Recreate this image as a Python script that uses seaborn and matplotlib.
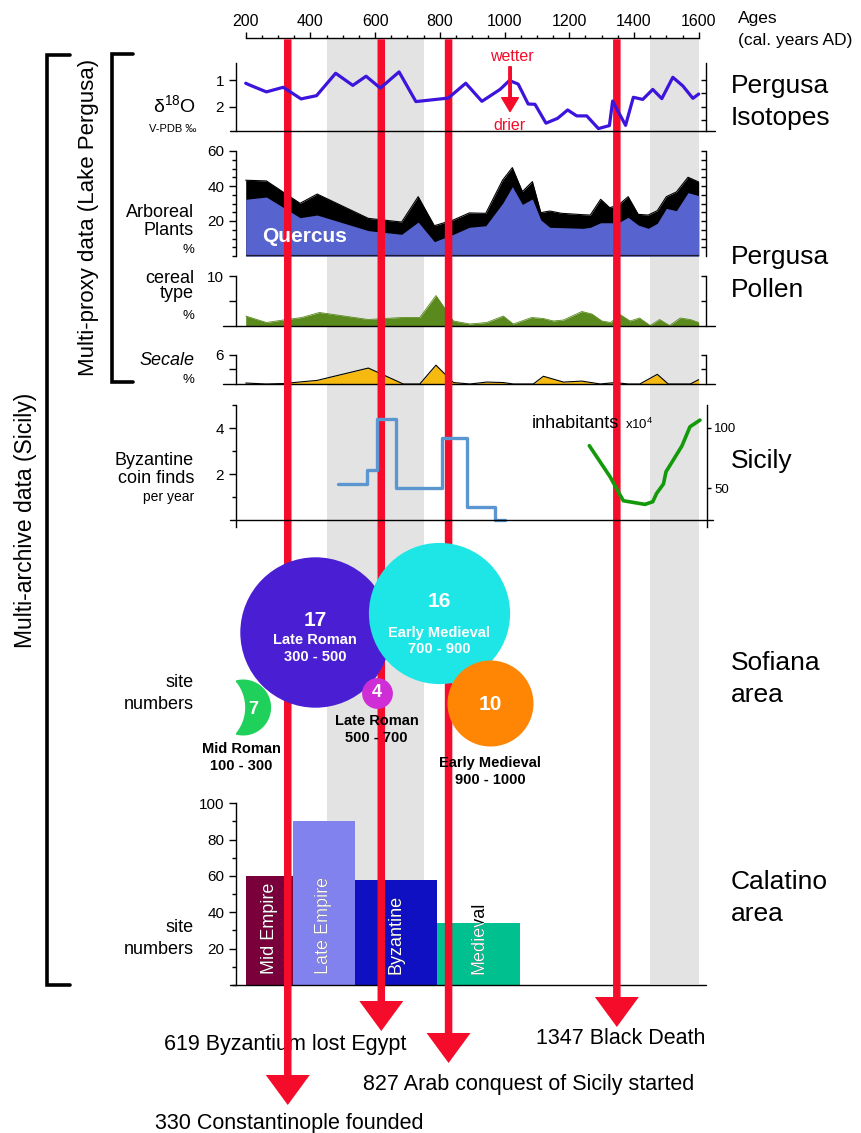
import numpy as np
import matplotlib
matplotlib.use("Agg")
import matplotlib.pyplot as plt
from matplotlib.path import Path
from matplotlib.ticker import MultipleLocator, FixedLocator, NullFormatter
import seaborn as sns

# ---------------- data ----------------
age_ticks = [200, 400, 600, 800, 1000, 1200, 1400, 1600]
grey_start = [450, 1450]
grey_end = [750, 1600]

iso_year = [200, 213, 264, 316, 371, 419, 478, 531, 572, 616, 674, 726, 826, 880, 930, 986,
            1015, 1042, 1073, 1094, 1128, 1164, 1195, 1223, 1254, 1290, 1324, 1334, 1374, 1398,
            1427, 1458, 1486, 1520, 1551, 1582, 1600]
iso_d18o = [1.12, 1.19, 1.44, 1.27, 1.70, 1.58, 0.75, 1.20, 0.86, 1.30, 0.70, 1.80, 1.67, 1.12,
            1.79, 1.35, 1.02, 1.15, 1.89, 1.90, 2.60, 2.42, 2.11, 2.33, 2.33, 2.80, 2.69, 1.78,
            2.68, 1.64, 1.72, 1.35, 1.69, 0.90, 1.22, 1.68, 1.52]

ap_year = [200, 264, 368, 421, 579, 682, 733, 783, 842, 891, 942, 994, 1024, 1055, 1086, 1112,
           1140, 1176, 1242, 1265, 1297, 1325, 1351, 1382, 1413, 1444, 1472, 1500, 1531, 1567, 1600]
ap_total = [43.3, 42.9, 30.1, 35.4, 21.5, 19.4, 33.9, 17.3, 20.6, 24.6, 24.4, 43.4, 50.5, 36.8,
            42.5, 24.8, 25.7, 24.4, 23.6, 23.4, 32.4, 27.6, 29.0, 33.9, 23.8, 23.4, 25.9, 33.9,
            36.6, 45.0, 42.3]
ap_quercus = [32.4, 33.7, 21.9, 23.4, 14.5, 12.4, 19.4, 8.2, 12.4, 16.4, 17.3, 30.1, 39.6, 29.5,
              32.6, 20.6, 16.4, 16.2, 15.8, 16.4, 19.0, 19.0, 19.0, 22.1, 17.7, 15.8, 18.7, 27.2,
              25.9, 36.2, 34.5]

cereal_year = [200, 264, 316, 373, 428, 579, 682, 738, 788, 842, 893, 945, 996, 1027, 1084, 1120,
               1151, 1182, 1239, 1270, 1301, 1328, 1357, 1388, 1417, 1450, 1479, 1510, 1543, 1574, 1600]
cereal_pct = [2.0, 0.7, 1.2, 1.7, 2.7, 1.3, 1.7, 1.7, 6.1, 1.0, 0.4, 0.7, 2.0, 0.4, 1.7, 1.5,
              1.0, 1.2, 2.9, 2.4, 1.0, 0.7, 2.3, 1.0, 1.6, 0.1, 1.3, 0.1, 1.6, 1.3, 0.7]

secale_year = [200, 264, 316, 421, 579, 687, 738, 788, 842, 893, 945, 996, 1027, 1089, 1120,
               1182, 1239, 1296, 1342, 1382, 1418, 1472, 1506, 1574, 1600]
secale_pct = [0.2, 0.0, 0.1, 0.75, 3.3, 0.0, 0.0, 3.9, 0.3, 0.0, 0.4, 0.3, 0.0, 0.0, 1.6,
              0.4, 0.6, 0.0, 0.3, 0.0, 0.0, 2.0, 0.0, 0.0, 0.9]

coin_year = [486, 574, 605, 664, 807, 883, 971, 1001]
coin_rate = [1.57, 2.19, 4.4, 1.39, 3.6, 0.57, 0.0, 0.0]

inhab_year = [1262, 1326, 1367, 1434, 1458, 1470, 1491, 1499, 1548, 1573, 1604]
inhab_1e4 = [85.2, 59.6, 39.8, 36.8, 39.0, 45.9, 53.6, 63.7, 84.9, 100.8, 106.3]

sof_label = ["Mid Roman", "Late Roman", "Late Roman", "Early Medieval", "Early Medieval"]
sof_start = [100, 300, 500, 700, 900]
sof_end = [300, 500, 700, 900, 1000]
sof_sites = [7, 17, 4, 16, 10]

cal_label = ["Mid Empire", "Late Empire", "Byzantine", "Medieval"]
cal_start = [200, 345, 537, 792]
cal_end = [345, 537, 792, 1048]
cal_sites = [60, 90, 58, 34]

event_year = [330, 619, 827, 1347]
event_text = ["330 Constantinople founded", "619 Byzantium lost Egypt",
              "827 Arab conquest of Sicily started", "1347 Black Death"]

# ---------------- style / layout ----------------
RED = "#f50c2a"
GREY = "#e3e3e3"
sof_colors = ["#1fd15a", "#4a1fd3", "#cf2ed6", "#1fe6e6", "#ff8505"]
cal_colors = ["#7a003c", "#8282ee", "#0f10c1", "#00c08f"]

W, H = 861, 1133
X0, X1 = 236, 706
PPY = (698.7 - 245.7) / 1400.0
XL = 200 - (245.7 - X0) / PPY
XR = 1600 + (X1 - 698.7) / PPY

sns.set_theme(style="ticks")
plt.rcParams.update({
    "font.family": ["Liberation Sans", "DejaVu Sans"],
    "axes.facecolor": "none",
    "axes.edgecolor": "black",
    "axes.linewidth": 1.0,
    "xtick.color": "black",
    "ytick.color": "black",
    "text.color": "black",
    "mathtext.fontset": "custom",
    "mathtext.rm": "Liberation Sans",
    "mathtext.it": "Liberation Sans:italic",
    "mathtext.bf": "Liberation Sans:bold",
})

fig = plt.figure(figsize=(W / 100, H / 100), dpi=100)
fig.patch.set_facecolor("white")


def box(y0, y1, x0=X0, x1=X1):
    return [x0 / W, 1 - y1 / H, (x1 - x0) / W, (y1 - y0) / H]


def ptext(x, y, s, **kw):
    return fig.text(x / W, 1 - y / H, s, **kw)


def panel(y0, y1, ylim, zorder=1):
    ax = fig.add_axes(box(y0, y1), zorder=zorder)
    ax.set_facecolor("none")
    for s in ["top", "right", "bottom"]:
        ax.spines[s].set_visible(False)
    ax.tick_params(axis="y", which="major", direction="out", length=5, width=1,
                   labelsize=11, pad=3.5)
    ax.tick_params(axis="y", which="minor", direction="out", length=3, width=1)
    return ax


def finish(ax, ylim):
    ax.set_xlim(XL, XR)
    ax.set_ylim(*ylim)
    ax.set_xticks([])
    ax.set_xlabel("")
    ax.set_ylabel("")


def right_ticks(ax, ticks):
    sec = ax.secondary_yaxis("right")
    sec.set_yticks(ticks)
    sec.yaxis.set_major_formatter(NullFormatter())
    sec.tick_params(axis="y", direction="in", length=3.5, width=1)
    sec.spines["right"].set_linewidth(1.0)
    return sec


def baseline(ax, yval, a0, a1):
    ax.plot([a0, a1], [yval, yval], transform=ax.get_yaxis_transform(),
            clip_on=False, color="black", lw=1.0)


# ---- background: grey periods + top age axis ----
bg = fig.add_axes(box(38.3, 984), zorder=0)
bg.set_facecolor("none")
for a, b in zip(grey_start, grey_end):
    bg.axvspan(a, b, color=GREY, lw=0)
bg.set_xlim(XL, XR)
bg.set_ylim(0, 1)
bg.set_yticks([])
for s in ["left", "right", "bottom"]:
    bg.spines[s].set_visible(False)
bg.spines["top"].set_bounds(200, 1600)
bg.xaxis.set_ticks_position("top")
bg.xaxis.set_label_position("top")
bg.xaxis.set_major_locator(FixedLocator(age_ticks))
bg.xaxis.set_minor_locator(MultipleLocator(50))
bg.tick_params(axis="x", which="major", direction="out", length=4.5, width=1,
               labelsize=11.5, pad=2.5, top=True, bottom=False, labeltop=True, labelbottom=False)
bg.tick_params(axis="x", which="minor", direction="out", length=2.5, width=1,
               top=True, bottom=False)

ptext(738, 18, "Ages", fontsize=12.5, va="center", ha="left")
ptext(738, 41, "(cal. years AD)", fontsize=12.5, va="center", ha="left")

# ---- isotopes ----
iso_lim = (2.89, 0.37)
ax_iso = panel(63, 131, iso_lim, zorder=3)
sns.lineplot(x=iso_year, y=iso_d18o, ax=ax_iso, color="#3c14dc", lw=2.3)
finish(ax_iso, iso_lim)
ax_iso.set_yticks([1, 2])
right_ticks(ax_iso, [1, 1.5, 2, 2.5])
baseline(ax_iso, iso_lim[0], -0.0128, 1.019)
ax_iso.annotate("", xy=(1017, 2.17), xytext=(1017, 0.51),
                arrowprops=dict(facecolor=RED, edgecolor=RED, width=1.8,
                                headwidth=12, headlength=10, shrink=0))
ptext(511.7, 56.7, "wetter", color=RED, fontsize=11.5, ha="center", va="center")
ptext(509.0, 125.0, "drier", color=RED, fontsize=11.5, ha="center", va="center")

# ---- arboreal pollen ----
ap_lim = (0, 60)
ax_ap = panel(151, 256, ap_lim)
ax_ap.fill_between(ap_year, 0, ap_total, color="black", lw=0)
ax_ap.fill_between(ap_year, 0, ap_quercus, color="#5764cf", lw=0)
sns.lineplot(x=ap_year, y=ap_total, ax=ax_ap, color="black", lw=0.8)
ax_ap.hlines(0, ap_year[0], ap_year[-1], color="#1a1a30", lw=1.6)
finish(ax_ap, ap_lim)
ax_ap.set_yticks([20, 40, 60])
ax_ap.yaxis.set_minor_locator(MultipleLocator(5))
right_ticks(ax_ap, list(range(5, 61, 5)))
ptext(305, 236.7, "Quercus", color="white", fontsize=15, fontweight="bold",
      ha="center", va="center")

# ---- cereal ----
ce_lim = (0, 10)
ax_ce = panel(276, 326, ce_lim)
ax_ce.fill_between(cereal_year, 0, cereal_pct, color="#5a8a1e", lw=0)
sns.lineplot(x=cereal_year, y=cereal_pct, ax=ax_ce, color="#5a8a1e", lw=0.6)
finish(ax_ce, ce_lim)
ax_ce.set_yticks([5, 10], labels=["", "10"])
right_ticks(ax_ce, [5, 10])
baseline(ax_ce, 0, -0.0277, 1.019)

# ---- secale ----
se_lim = (0, 6)
ax_se = panel(355, 384, se_lim)
ax_se.fill_between(secale_year, 0, secale_pct, color="#f6b910", lw=0)
sns.lineplot(x=secale_year, y=secale_pct, ax=ax_se, color="black", lw=0.8)
finish(ax_se, se_lim)
ax_se.set_yticks([3, 6], labels=["", "6"])
right_ticks(ax_se, [3, 6])
baseline(ax_se, 0, -0.0277, 1.019)

# ---- coins + inhabitants ----
co_lim = (-0.304, 5)
ax_co = panel(405.3, 527.3, co_lim, zorder=3)
sns.lineplot(x=coin_year, y=coin_rate, ax=ax_co, color="#5b96d1", lw=2.4,
             drawstyle="steps-post")
finish(ax_co, co_lim)
ax_co.set_yticks([2, 4])
ax_co.yaxis.set_minor_locator(FixedLocator([1, 3, 5]))
baseline(ax_co, 0, -0.0128, 1.0149)

in_lim = (17.9, 118.5)
ax_in = fig.add_axes(box(405.3, 527.3, X0, 707), zorder=3)
ax_in.set_facecolor("none")
sns.lineplot(x=inhab_year, y=inhab_1e4, ax=ax_in, color="#129a0a", lw=2.6)
ax_in.set_xlim(XL, XR + 1 / PPY)
ax_in.set_ylim(*in_lim)
ax_in.set_xticks([])
ax_in.set_xlabel("")
ax_in.set_ylabel("")
for s in ["top", "left", "bottom"]:
    ax_in.spines[s].set_visible(False)
ax_in.yaxis.tick_right()
ax_in.set_yticks([50, 100])
ax_in.tick_params(axis="y", direction="out", length=3, width=1, labelsize=9.5, pad=2)
ptext(532, 423, "inhabitants", fontsize=13, ha="left", va="center")
ptext(625, 424, r"x10$^{\mathrm{4}}$", fontsize=9.5, ha="left", va="center")

# ---- Sofiana site bubbles ----
ax_so = fig.add_axes(box(540, 800), zorder=3)
ax_so.set_facecolor("none")
ax_so.set_xlim(XL, XR)
ax_so.set_ylim(800, 540)
ax_so.axis("off")

# layout of the bubble cluster (pixel rows, small x nudges in years)
bub_dx = [23.5, 14.0, 5.0, -2.0, 5.0]
bub_cy = [707.0, 631.5, 692.7, 613.0, 703.3]
num_y = [709.3, 620.0, 692.7, 601.7, 704.0]
lab_y = [749.0, 640.0, 721.0, 632.7, 762.7]
per_y = [766.0, 656.7, 738.3, 649.3, 780.0]
lab_dx = [-36.0, 0.0, 0.0, 0.0, 0.0]
lab_inside = [False, True, False, True, False]
num_size = [13, 15, 13, 15, 15]


def radius_px(n):
    return 4.6 * n - 3.0


bx = [(s + e) / 2 + d for s, e, d in zip(sof_start, sof_end, bub_dx)]

# crescent for the smallest group
a1 = np.radians(np.linspace(105, -105, 60))
outer = np.c_[-10 + 26.9 * np.cos(a1), 26.9 * np.sin(a1)]
a2 = np.radians(np.linspace(-41.5, 41.5, 40))
inner = np.c_[-46.8 + 38.8 * np.cos(a2), 38.8 * np.sin(a2)]
cverts = np.vstack([outer, inner, outer[:1]])
ccodes = [Path.MOVETO] + [Path.LINETO] * (len(cverts) - 2) + [Path.CLOSEPOLY]
crescent = Path(cverts, ccodes)

for i in range(len(sof_sites)):
    r = radius_px(sof_sites[i])
    if i == 0:
        ax_so.scatter([bx[i]], [bub_cy[i]], marker=crescent, s=(2 * 28 * 0.72) ** 2,
                      color=sof_colors[i], lw=0, zorder=2 + i)
    else:
        ax_so.scatter([bx[i]], [bub_cy[i]], marker="o", s=(2 * r * 0.72) ** 2,
                      color=sof_colors[i], lw=0, zorder=2 + i)

for i in range(len(sof_sites)):
    ax_so.text(bx[i], num_y[i], str(sof_sites[i]), color="white", fontsize=num_size[i],
               fontweight="bold", ha="center", va="center", zorder=20)
    c = "white" if lab_inside[i] else "black"
    ax_so.text(bx[i] + lab_dx[i], lab_y[i], sof_label[i], color=c, fontsize=10.5,
               fontweight="bold", ha="center", va="center", zorder=20)
    ax_so.text(bx[i] + lab_dx[i], per_y[i], f"{sof_start[i]} - {sof_end[i]}", color=c,
               fontsize=10.5, fontweight="bold", ha="center", va="center", zorder=20)

# ---- Calatino bars ----
ca_lim = (0, 100)
ax_ca = panel(803.3, 985, ca_lim)
bars = ax_ca.bar(cal_start, cal_sites, width=[e - s for s, e in zip(cal_start, cal_end)],
                 align="edge", color=cal_colors, lw=0)
finish(ax_ca, ca_lim)
ax_ca.set_yticks([20, 40, 60, 80, 100])
ax_ca.yaxis.set_minor_locator(MultipleLocator(10))
baseline(ax_ca, 0, -0.0128, 1.0)
for i, lab in enumerate(cal_label):
    xm = (cal_start[i] + cal_end[i]) / 2
    ax_ca.text(xm, 6, lab, rotation=90, ha="center", va="bottom", fontsize=13,
               color="black", zorder=5)
    t = ax_ca.text(xm, 6, lab, rotation=90, ha="center", va="bottom", fontsize=13,
                   color="white", zorder=6, clip_on=True)
    t.set_clip_path(bars[i])

# ---- red event arrows ----
ov = fig.add_axes(box(0, H), zorder=2)
ov.set_facecolor("none")
ov.set_xlim(XL, XR)
ov.set_ylim(H, 0)
ov.axis("off")
arrow_tip = [1105, 1031, 1063, 1027]
for yr, tip in zip(event_year, arrow_tip):
    ov.arrow(yr, 39.3, 0, tip - 39.3, width=7.5 / PPY, head_width=44 / PPY,
             head_length=30, length_includes_head=True, color=RED, lw=0, zorder=5)

ev_x = [289.4, 285.4, 529.0, 621.0]
ev_base = [1129, 1050, 1090, 1044]
for s, x, y in zip(event_text, ev_x, ev_base):
    ptext(x, y, s, fontsize=15.5, ha="center", va="baseline", zorder=1.5)

# ---- left labels ----
LX = 194
ptext(LX + 2, 111.7, r"δ$^{\mathrm{18}}$O", fontsize=14, ha="right", va="baseline")
ptext(LX + 2, 131.7, "V-PDB ‰", fontsize=8, ha="right", va="baseline")
ptext(LX, 217, "Arboreal", fontsize=13, ha="right", va="baseline")
ptext(LX, 235, "Plants", fontsize=13, ha="right", va="baseline")
ptext(LX, 253, "%", fontsize=9.5, ha="right", va="baseline")
ptext(LX, 282.7, "cereal", fontsize=13, ha="right", va="baseline")
ptext(LX, 298.5, "type", fontsize=13, ha="right", va="baseline")
ptext(LX, 319, "%", fontsize=9.5, ha="right", va="baseline")
ptext(LX, 365, "Secale", fontsize=13, ha="right", va="baseline", style="italic")
ptext(LX, 383, "%", fontsize=9.5, ha="right", va="baseline")
ptext(LX, 465, "Byzantine", fontsize=13, ha="right", va="baseline")
ptext(LX, 483, "coin finds", fontsize=13, ha="right", va="baseline")
ptext(LX, 501, "per year", fontsize=10, ha="right", va="baseline")
ptext(LX, 687.3, "site", fontsize=13, ha="right", va="baseline")
ptext(LX, 709, "numbers", fontsize=13, ha="right", va="baseline")
ptext(LX, 932, "site", fontsize=13, ha="right", va="baseline")
ptext(LX, 954, "numbers", fontsize=13, ha="right", va="baseline")

# ---- right labels ----
RX = 731
for s, y in [("Pergusa", 93), ("Isotopes", 125), ("Pergusa", 264), ("Pollen", 297),
             ("Sicily", 468), ("Sofiana", 670), ("area", 702), ("Calatino", 889), ("area", 921)]:
    ptext(RX, y, s, fontsize=19, ha="left", va="baseline")

# ---- brackets + group titles ----
fig.add_artist(plt.Line2D(np.array([70, 47, 47, 70]) / W,
                          1 - np.array([55, 55, 985, 985]) / H, color="black", lw=2.6,
                          solid_joinstyle="miter"))
fig.add_artist(plt.Line2D(np.array([133, 111.7, 111.7, 133]) / W,
                          1 - np.array([54, 54, 382, 382]) / H, color="black", lw=2.6,
                          solid_joinstyle="miter"))
ptext(89, 217.5, "Multi-proxy data (Lake Pergusa)", fontsize=16, rotation=90,
      ha="center", va="center")
ptext(26, 520, "Multi-archive data (Sicily)", fontsize=16.5, rotation=90,
      ha="center", va="center")

fig.savefig("out.png", dpi=100)
